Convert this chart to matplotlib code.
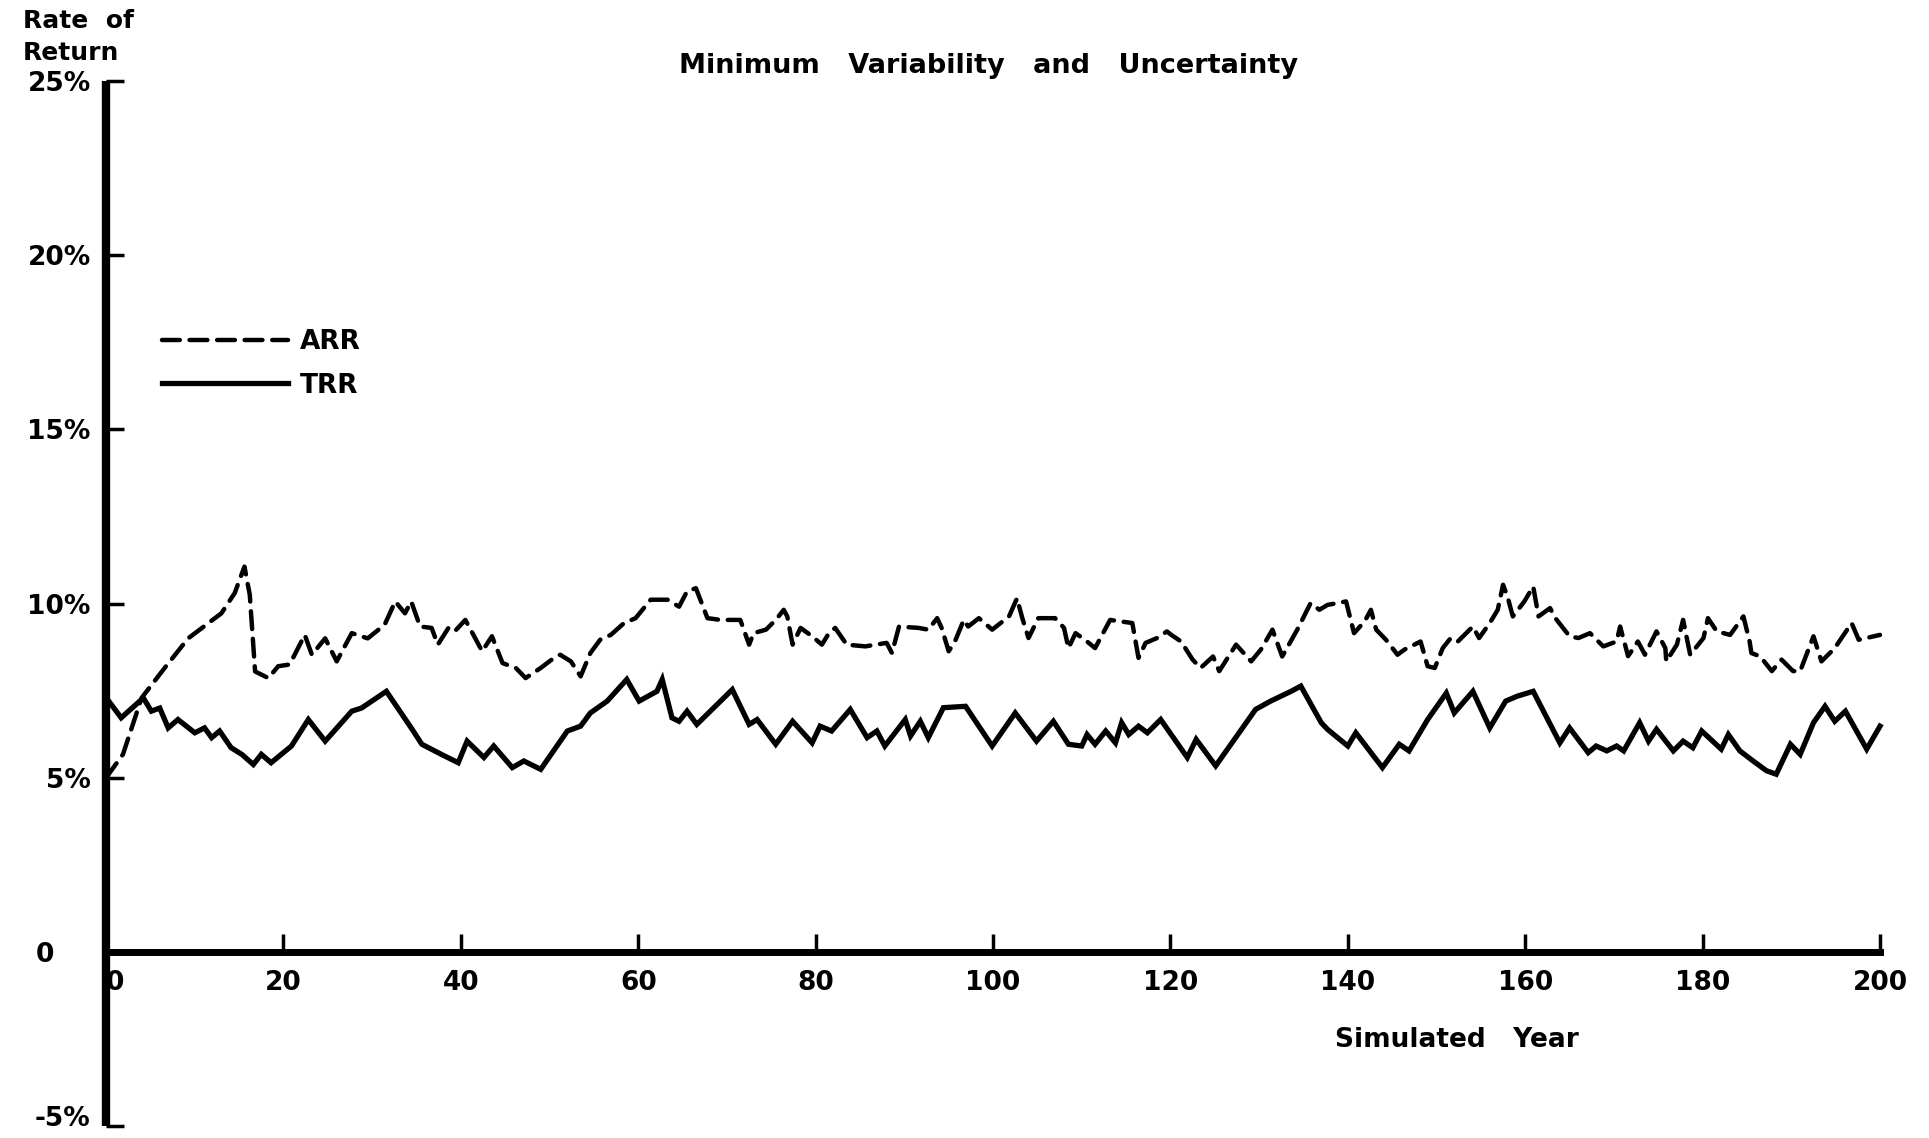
import matplotlib
matplotlib.use("Agg")
import matplotlib.pyplot as plt

# ---- data ----
arr_years = [0, 1.9, 4.0, 6.6, 9.25, 13.0, 14.5, 15.6, 16.2, 16.8, 18.3, 19.4, 20.7, 22.4, 23.2,
             24.7, 26.0, 27.7, 29.5, 31.4, 32.6, 33.7, 34.4, 35.4, 36.7, 37.4, 38.6, 39.3, 40.5,
             41.1, 42.4, 43.5, 44.7, 46.2, 47.3, 49.0, 50.5, 51.2, 52.4, 53.5, 54.6, 55.7, 56.9,
             58.4, 59.7, 61.4, 63.3, 64.6, 65.5, 66.5, 67.8, 69.3, 71.5, 72.5, 73.0, 74.4, 75.5,
             76.4, 76.8, 77.4, 78.3, 79.6, 80.7, 81.5, 82.2, 83.5, 85.6, 88.0, 88.6, 89.4, 91.6,
             92.7, 93.7, 94.2, 95.0, 95.7, 96.7, 97.2, 98.4, 99.9, 101.8, 102.7, 103.3, 104.0,
             105.1, 107.0, 108.0, 108.5, 109.3, 110.6, 111.5, 112.3, 113.2, 115.7, 116.4, 117.2,
             118.5, 119.6, 120.1, 121.2, 122.5, 123.4, 124.8, 125.5, 127.4, 129.1, 130.2, 131.5,
             132.6, 134.3, 135.8, 136.8, 137.7, 139.8, 140.7, 141.9, 142.6, 143.2, 144.3, 145.6,
             146.4, 148.2, 149.0, 149.8, 150.7, 151.6, 152.4, 154.1, 154.8, 156.0, 156.9, 157.5,
             158.0, 158.6, 159.9, 160.9, 161.5, 162.8, 163.4, 165.0, 166.0, 167.3, 168.8, 170.3,
             170.7, 171.6, 172.7, 173.5, 174.8, 175.8, 175.9, 177.1, 177.8, 178.6, 180.1, 180.6,
             181.6, 183.1, 184.6, 185.3, 185.5, 186.5, 187.8, 188.9, 190.2, 191.0, 192.5, 193.4,
             194.9, 196.8, 197.6, 200.0]
arr_values = [5.0, 5.67, 7.29, 8.15, 9.0, 9.72, 10.3, 11.06, 10.25, 8.05, 7.86, 8.2, 8.25, 9.1, 8.53,
              9.0, 8.34, 9.15, 9.0, 9.39, 10.06, 9.72, 10.06, 9.34, 9.3, 8.82, 9.3, 9.2, 9.53,
              9.25, 8.63, 9.06, 8.29, 8.15, 7.86, 8.15, 8.44, 8.53, 8.34, 7.91, 8.58, 8.96, 9.1,
              9.44, 9.58, 10.11, 10.11, 9.91, 10.35, 10.44, 9.58, 9.53, 9.53, 8.82, 9.15, 9.25, 9.53,
              9.82, 9.63, 8.82, 9.3, 9.06, 8.82, 9.15, 9.3, 8.82, 8.77, 8.87, 8.58, 9.34, 9.3,
              9.25, 9.58, 9.3, 8.63, 8.91, 9.53, 9.34, 9.58, 9.25, 9.63, 10.15, 9.58, 9.01,
              9.58, 9.58, 9.3, 8.72, 9.15, 8.91, 8.72, 9.1, 9.53, 9.44, 8.44, 8.87,
              9.01, 9.2, 9.1, 8.91, 8.39, 8.15, 8.48, 8.06, 8.82, 8.34, 8.68, 9.25,
              8.48, 9.25, 10.01, 9.82, 9.96, 10.06, 9.15, 9.49, 9.82, 9.25, 8.96, 8.53,
              8.68, 8.91, 8.2, 8.15, 8.72, 9.01, 8.91, 9.34, 9.01, 9.44, 9.82, 10.54,
              10.2, 9.63, 10.06, 10.49, 9.63, 9.87, 9.58, 9.06, 9.01, 9.15, 8.77, 8.91,
              9.34, 8.49, 8.91, 8.53, 9.2, 8.72, 8.34, 8.82, 9.53, 8.53, 9.01, 9.58,
              9.2, 9.1, 9.63, 8.91, 8.58, 8.48, 8.06, 8.39, 8.06, 8.06, 9.06, 8.34,
              8.72, 9.44, 8.96, 9.1]

trr_years = [0, 1.7, 4.2, 5.1, 6.05, 7.0, 8.1, 10.0, 11.1, 11.9, 12.8, 14.1, 15.3, 16.6, 17.5, 18.6,
             20.9, 22.8, 24.7, 27.7, 28.8, 31.6, 34.4, 35.6, 37.8, 39.7, 40.7, 42.6, 43.7, 45.8,
             47.1, 49.0, 52.0, 53.5, 54.6, 56.5, 58.7, 60.1, 62.1, 62.7, 63.8, 64.6, 65.5, 66.6,
             70.6, 72.5, 73.4, 75.5, 77.4, 79.6, 80.5, 81.8, 83.9, 85.8, 86.9, 87.8, 90.1, 90.7,
             91.8, 92.7, 94.4, 96.9, 99.9, 102.5, 104.9, 106.8, 108.5, 110.0, 110.6, 111.5, 112.7,
             113.8, 114.5, 115.3, 116.4, 117.4, 118.9, 121.9, 122.9, 125.1, 129.6, 131.3, 133.6,
             134.7, 137.0, 137.7, 140.0, 140.9, 143.9, 145.8, 146.9, 149.0, 151.1, 152.0, 154.1,
             156.0, 157.8, 159.1, 160.9, 163.9, 165.0, 167.1, 168.0, 169.2, 170.3, 171.1, 172.9,
             173.9, 174.8, 176.7, 177.8, 178.9, 179.9, 182.1, 182.9, 184.2, 185.7, 187.2, 188.3,
             189.9, 191.0, 192.5, 193.8, 194.9, 196.1, 198.5, 200.0]
trr_values = [7.3, 6.72, 7.29, 6.91, 7.0, 6.43, 6.67, 6.29, 6.43, 6.15, 6.34, 5.86, 5.67, 5.38, 5.67, 5.43,
              5.91, 6.67, 6.05, 6.91, 7.0, 7.48, 6.43, 5.96, 5.67, 5.43, 6.05, 5.58, 5.91, 5.29,
              5.48, 5.24, 6.34, 6.48, 6.86, 7.2, 7.82, 7.2, 7.48, 7.82, 6.72, 6.62, 6.91, 6.53,
              7.53, 6.53, 6.67, 5.96, 6.62, 6.0, 6.48, 6.34, 6.96, 6.15, 6.34, 5.91, 6.67, 6.2,
              6.62, 6.15, 7.01, 7.05, 5.91, 6.86, 6.05, 6.62, 5.96, 5.91, 6.24, 5.96, 6.34,
              6.0, 6.58, 6.24, 6.48, 6.29, 6.67, 5.58, 6.1, 5.34, 6.96, 7.2, 7.48,
              7.63, 6.58, 6.39, 5.91, 6.29, 5.29, 5.96, 5.77, 6.67, 7.43, 6.86, 7.48,
              6.43, 7.2, 7.34, 7.48, 6.0, 6.43, 5.72, 5.91, 5.77, 5.91, 5.77, 6.58,
              6.05, 6.39, 5.77, 6.05, 5.86, 6.34, 5.82, 6.24, 5.77, 5.48, 5.2, 5.1,
              5.96, 5.67, 6.58, 7.05, 6.62, 6.91, 5.82, 6.48]

x_ticks = [0, 20, 40, 60, 80, 100, 120, 140, 160, 180, 200]
x_tick_labels = ["0", "20", "40", "60", "80", "100", "120", "140", "160", "180", "200"]
y_ticks = [-5, 0, 5, 10, 15, 20, 25]
y_tick_labels = ["-5%", "0    ", "5%", "10%", "15%", "20%", "25%"]

title = "Minimum   Variability   and   Uncertainty"
y_label = "Rate  of\nReturn"
x_label = "Simulated   Year"
series_labels = ["ARR", "TRR"]

# ---- figure ----
plt.rcParams['font.family'] = ['DejaVu Sans']
plt.rcParams['font.weight'] = 'bold'

fig = plt.figure(figsize=(19.29, 11.38), dpi=100)
ax = fig.add_axes([0.055, 0.0105, 0.9196, 0.9183])

ax.plot(arr_years, arr_values, color='black', lw=3.2, linestyle=(0, (4.0, 2.2)),
        label=series_labels[0], solid_capstyle='round', dash_capstyle='round', clip_on=False)
ax.plot(trr_years, trr_values, color='black', lw=3.8, label=series_labels[1],
        solid_joinstyle='miter', clip_on=False)

ax.set_xlim(0, 200)
ax.set_ylim(-5, 25)

for s in ['top', 'right']:
    ax.spines[s].set_visible(False)
ax.spines['bottom'].set_position(('data', 0))
ax.spines['left'].set_linewidth(6)
ax.spines['bottom'].set_linewidth(5)
ax.spines['left'].set_capstyle('butt')

ax.set_xticks(x_ticks)
ax.set_xticklabels(x_tick_labels)
ax.set_yticks(y_ticks)
ax.set_yticklabels(y_tick_labels)
ax.tick_params(axis='both', direction='in', length=13, width=2.5, labelsize=19, color='black')
ax.tick_params(axis='x', pad=13)
ax.tick_params(axis='y', pad=11)
for lab in ax.get_xticklabels():
    lab.set_fontweight('bold')
for lab in ax.get_yticklabels():
    lab.set_fontweight('bold')
ax.get_xticklabels()[0].set_horizontalalignment('left')
ax.get_yticklabels()[0].set_verticalalignment('baseline')

fig.text(0.5125, 0.9416, title, ha='center', va='center', fontsize=19.5, fontweight='bold')
fig.text(0.012, 0.992, y_label, ha='left', va='top', fontsize=18, fontweight='bold',
         linespacing=1.4)
fig.text(0.755, 0.0865, x_label, ha='center', va='center', fontsize=19, fontweight='bold')

leg = ax.legend(loc='upper left', bbox_to_anchor=(0.018, 0.785), frameon=False,
                handlelength=4.8, handletextpad=0.45, labelspacing=0.65,
                prop={'weight': 'bold', 'size': 19})

fig.savefig("out.png", dpi=100, facecolor='white')
